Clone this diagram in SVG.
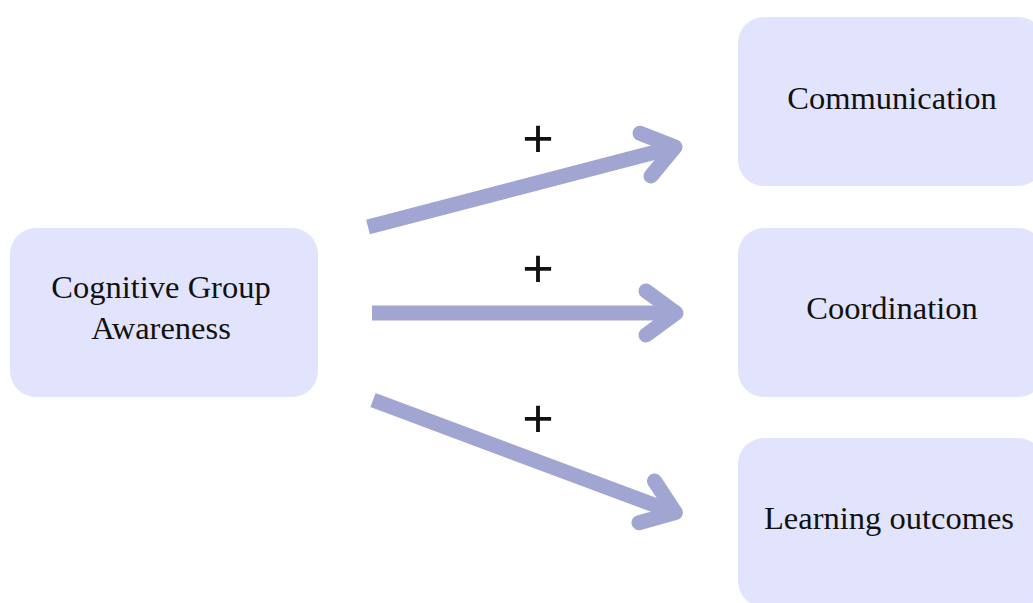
<svg xmlns="http://www.w3.org/2000/svg" width="1033" height="603" viewBox="0 0 1033 603">
<style>
.box{fill:#e1e4fc;}
.lbl{font-family:"Liberation Serif","Times New Roman",serif;font-size:32.5px;fill:#111;text-anchor:middle;}
.plus{font-family:"Liberation Sans",Arial,sans-serif;font-size:54px;fill:#111;text-anchor:middle;}
.shaft{fill:none;stroke:#a1a5d1;stroke-width:15;stroke-linecap:butt;}
.head{fill:none;stroke:#a1a5d1;stroke-width:15;stroke-linecap:round;stroke-linejoin:round;}
</style>
<rect width="1033" height="603" fill="#ffffff"/>
<g id="node-cga">
<rect class="box" x="10" y="228" width="308" height="169" rx="26"/>
<text class="lbl" x="161" y="298">Cognitive Group</text>
<text class="lbl" x="161" y="339">Awareness</text>
</g>
<g id="node-communication">
<rect class="box" x="738" y="17" width="306" height="169" rx="26"/>
<text class="lbl" x="892" y="109">Communication</text>
</g>
<g id="node-coordination">
<rect class="box" x="738" y="228" width="306" height="169" rx="26"/>
<text class="lbl" x="892" y="319">Coordination</text>
</g>
<g id="node-learning">
<rect class="box" x="738" y="438" width="306" height="169" rx="26"/>
<text class="lbl" x="889" y="529">Learning outcomes</text>
</g>
<g id="connectors">
<path class="shaft" d="M368,227 L673,147.5"/>
<path class="head" d="M640,133.2 L675,147 L651,176"/>
<path class="shaft" d="M372,313 L673,313"/>
<path class="head" d="M646,291 L676,313 L646,335"/>
<path class="shaft" d="M373,400 L673,512"/>
<path class="head" d="M654.5,481 L675.4,512.6 L639,522.8"/>
<text class="plus" x="538" y="157">+</text>
<text class="plus" x="538" y="287">+</text>
<text class="plus" x="538" y="437">+</text>
</g>
</svg>
